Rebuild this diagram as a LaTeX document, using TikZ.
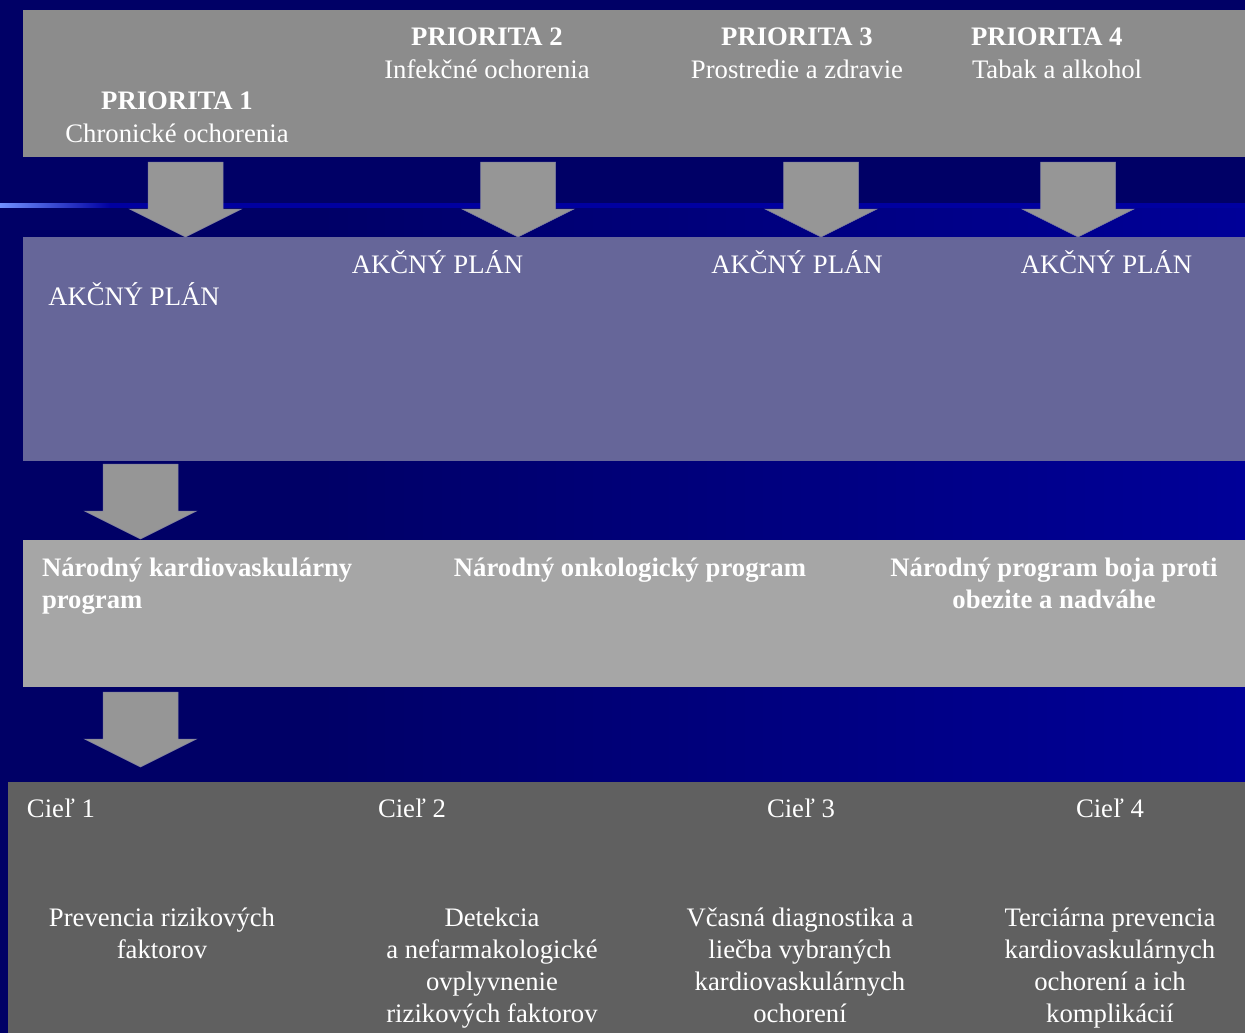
\documentclass[tikz,border=0pt]{standalone}
\usepackage{fontspec}
\setmainfont{Liberation Serif}
\definecolor{bgdark}{HTML}{000066}
\definecolor{bgright}{HTML}{000098}
\definecolor{linelight}{HTML}{7090FF}
\definecolor{linemid}{HTML}{0050F0}
\definecolor{linedark}{HTML}{0000A0}
\definecolor{boxone}{HTML}{8C8C8C}
\definecolor{boxtwo}{HTML}{666699}
\definecolor{boxthree}{HTML}{A6A6A6}
\definecolor{boxfour}{HTML}{606060}
\definecolor{arrowfill}{HTML}{969696}
\definecolor{arrowline}{HTML}{8080A0}
\newcommand{\blockarrow}[2]{%
  \draw[arrowshape] (#1-37.5,#2) -- (#1+37.5,#2) -- (#1+37.5,#2+47) -- (#1+56,#2+47)
    -- (#1,#2+75) -- (#1-56,#2+47) -- (#1-37.5,#2+47) -- cycle;}
\begin{document}
\begin{tikzpicture}[x=1pt,y=-1pt,
  panel/.style={draw=none, inner sep=0, outer sep=0, anchor=north west},
  txt/.style={text=white, inner sep=0, outer sep=0, anchor=base,
    font=\fontsize{26.7}{32}\selectfont, align=center},
  btxt/.style={txt, font=\fontsize{26.7}{32}\selectfont\bfseries},
  arrowshape/.style={fill=arrowfill, draw=arrowline, line width=0.5pt}]
\useasboundingbox (0,0) rectangle (1245,1033);
% background
\fill[bgdark] (0,0) rectangle (1245,1033);
\shade[left color=bgdark, right color=bgright] (300,206) rectangle (1245,1033);
\shade[left color=linelight, middle color=linemid, right color=linedark] (0,203) rectangle (110,207.5);
\fill[linedark] (110,203) rectangle (1245,207.5);
% panels
\node[panel, fill=boxone, minimum width=1222pt, minimum height=147pt] (p1) at (23,10) {};
\node[panel, fill=boxtwo, minimum width=1222pt, minimum height=224pt] (p2) at (23,237) {};
\node[panel, fill=boxthree, minimum width=1222pt, minimum height=147pt] (p3) at (23,540) {};
\node[panel, fill=boxfour, minimum width=1237pt, minimum height=251pt] (p4) at (8,782) {};
% arrows
\blockarrow{185.5}{162}
\blockarrow{518}{162}
\blockarrow{821}{162}
\blockarrow{1078}{162}
\blockarrow{140.5}{464}
\blockarrow{140.5}{692}
% priorities
\node[btxt] (pr1) at (177,110) {PRIORITA 1};
\node[txt] (pr1b) at (177,142) {Chronické ochorenia};
\node[btxt] (pr2) at (487,46) {PRIORITA 2};
\node[txt] (pr2b) at (487,78) {Infekčné ochorenia};
\node[btxt] (pr3) at (797,46) {PRIORITA 3};
\node[txt] (pr3b) at (797,78) {Prostredie a zdravie};
\node[btxt, anchor=base west] (pr4) at (971,46) {PRIORITA 4};
\node[txt, anchor=base west] (pr4b) at (972,78) {Tabak a alkohol};
% action plans
\node[txt] (ap1) at (134,305) {AKČNÝ PLÁN};
\node[txt] (ap2) at (437.5,273) {AKČNÝ PLÁN};
\node[txt] (ap3) at (797,273) {AKČNÝ PLÁN};
\node[txt] (ap4) at (1106.5,273) {AKČNÝ PLÁN};
% programs (base anchor = baseline of last line)
\node[btxt, anchor=base west, align=left] (np1) at (42,608) {Národný kardiovaskulárny\\program};
\node[btxt] (np2) at (630,576) {Národný onkologický program};
\node[btxt] (np3) at (1054,608) {Národný program boja proti\\obezite a nadváhe};
% goals
\node[txt, anchor=base west] (c1) at (27,817) {Cieľ 1};
\node[txt, anchor=base west] (c2) at (378,817) {Cieľ 2};
\node[txt, anchor=base west] (c3) at (767,817) {Cieľ 3};
\node[txt, anchor=base west] (c4) at (1076,817) {Cieľ 4};
\node[txt] (g1) at (162,958) {Prevencia rizikových\\faktorov};
\node[txt] (g2) at (492,1022) {Detekcia\\a nefarmakologické\\ovplyvnenie\\rizikových faktorov};
\node[txt] (g3) at (800,1022) {Včasná diagnostika a\\liečba vybraných\\kardiovaskulárnych\\ochorení};
\node[txt] (g4) at (1110,1022) {Terciárna prevencia\\kardiovaskulárnych\\ochorení a ich\\komplikácií};
\end{tikzpicture}
\end{document}
